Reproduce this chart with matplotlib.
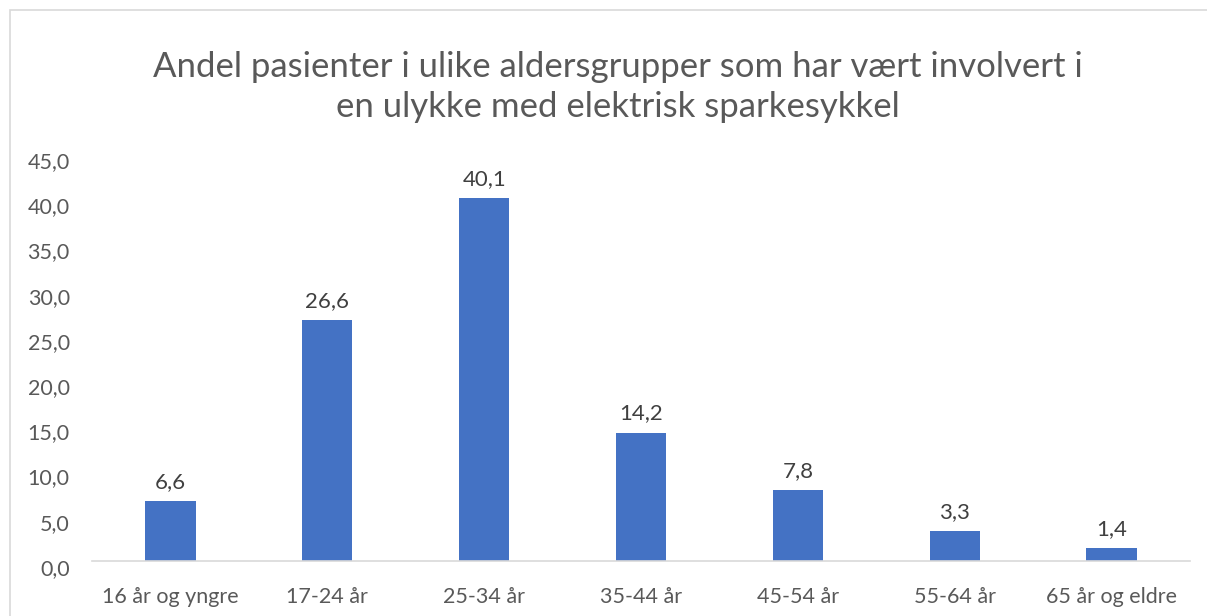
import matplotlib
matplotlib.use("Agg")
import matplotlib.pyplot as plt
import matplotlib.transforms as mtransforms
from matplotlib.patches import Rectangle

categories = ["16 år og yngre", "17-24 år", "25-34 år", "35-44 år",
              "45-54 år", "55-64 år", "65 år og eldre"]
values = [6.6, 26.6, 40.1, 14.2, 7.8, 3.3, 1.4]
yticks = [0, 5, 10, 15, 20, 25, 30, 35, 40, 45]

plt.rcParams["font.family"] = ["Lato", "DejaVu Sans"]

fig = plt.figure(figsize=(12.07, 6.16), dpi=100)
fig.patches.append(Rectangle((10 / 1207, -0.1), 1.2, 1.1 - 10 / 616,
                             transform=fig.transFigure, fill=False,
                             edgecolor="#D9D9D9", linewidth=1.2))
ax = fig.add_axes([92 / 1207, 1 - 561 / 616, (1190 - 92) / 1207, (561 - 154) / 616])

x = range(len(categories))
bars = ax.bar(x, values, width=0.32, color="#4472C4")
for bar, val in zip(bars, values):
    ax.text(bar.get_x() + bar.get_width() / 2, bar.get_height() + 1.0,
            f"{val:.1f}".replace(".", ","), ha="center", va="bottom",
            fontsize=16, color="#404040")

ax.set_xlim(-0.5, len(categories) - 0.5)
ax.set_ylim(0, 45)
ax.set_yticks(yticks)
ax.set_yticklabels([f"{v:.1f}".replace(".", ",") for v in yticks])
ax.set_xticks(list(x))
ax.set_xticklabels(categories)
ax.tick_params(axis="both", length=0, labelsize=15.5, labelcolor="#595959")
ax.tick_params(axis="y", pad=16)
ax.tick_params(axis="x", pad=19)
# Excel draws the value labels a little below their gridline position
shift = mtransforms.ScaledTranslation(0, -6 / 100, fig.dpi_scale_trans)
for lbl in ax.get_yticklabels():
    lbl.set_transform(lbl.get_transform() + shift)
for s in ["top", "right", "left"]:
    ax.spines[s].set_visible(False)
ax.spines["bottom"].set_color("#D9D9D9")
ax.spines["bottom"].set_linewidth(1.2)

fig.text(618 / 1207, 1 - 87 / 616,
         "Andel pasienter i ulike aldersgrupper som har vært involvert i\n"
         "en ulykke med elektrisk sparkesykkel",
         ha="center", va="center", fontsize=25, color="#595959",
         linespacing=1.3)

plt.savefig("out.png", dpi=100)
plt.close()
